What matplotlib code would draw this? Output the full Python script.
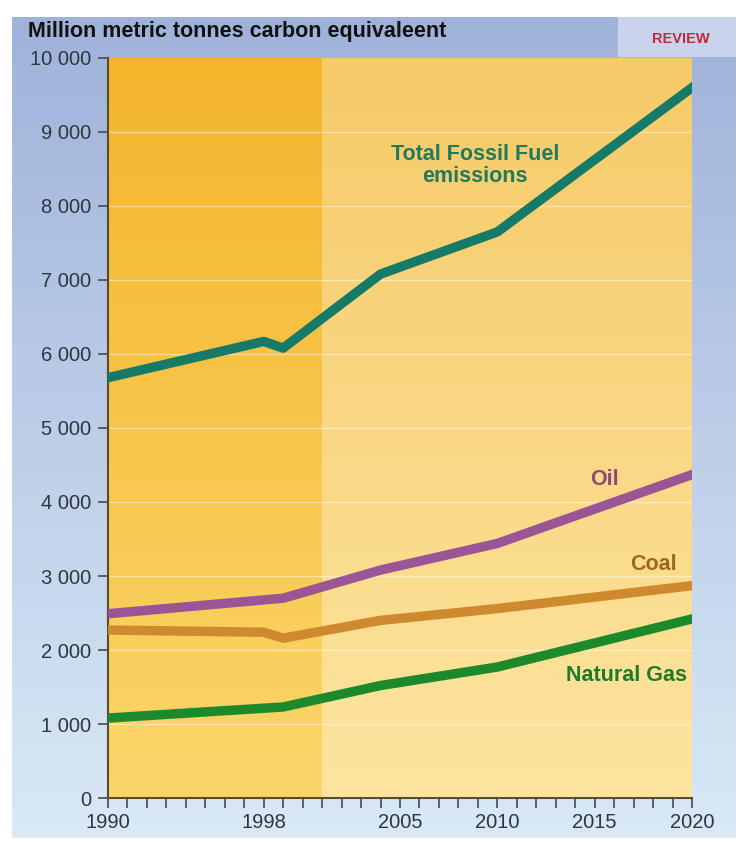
import numpy as np
import matplotlib
matplotlib.use("Agg")
import matplotlib.pyplot as plt
from matplotlib.colors import LinearSegmentedColormap
from matplotlib.patches import Rectangle

# data
years_total = [1990, 1998, 1999, 2004, 2010, 2020]
total = [5680, 6170, 6080, 7080, 7650, 9600]
years_oil = [1990, 1999, 2004, 2010, 2020]
oil = [2490, 2700, 3080, 3440, 4370]
years_coal = [1990, 1998, 1999, 2004, 2010, 2020]
coal = [2270, 2240, 2160, 2400, 2560, 2870]
years_gas = [1990, 1999, 2004, 2010, 2020]
gas = [1080, 1230, 1520, 1770, 2420]

xtick_labels = [1990, 1998, 2005, 2010, 2015, 2020]
yticks = [0, 1000, 2000, 3000, 4000, 5000, 6000, 7000, 8000, 9000, 10000]
history_end = 2001

fig = plt.figure(figsize=(7.4, 8.42), dpi=100)
fig.patch.set_facecolor("white")

# blue gradient background
bg = fig.add_axes([12 / 740, 4 / 842, 724 / 740, 821 / 842], zorder=-10)
bg_cmap = LinearSegmentedColormap.from_list("bg", ["#9fb2da", "#d9e9f6"])
bg.imshow(np.linspace(0, 1, 256).reshape(-1, 1), aspect="auto", cmap=bg_cmap,
          extent=[0, 1, 0, 1])
bg.axis("off")
bg.add_patch(Rectangle((606 / 724, 781 / 821), 118 / 724, 40 / 821,
                       facecolor="#c9d3ec", edgecolor="none"))
bg.text(669 / 724, 799 / 821, "REVIEW", color="#bf2a3c", fontsize=10.5,
        fontweight="bold", ha="center", va="center", family="Liberation Sans")

ax = fig.add_axes([108 / 740, 44 / 842, 584 / 740, 740 / 842])

grad = np.linspace(0, 1, 256).reshape(-1, 1)
left_cmap = LinearSegmentedColormap.from_list("l", ["#fbd66a", "#f4b52c"])
right_cmap = LinearSegmentedColormap.from_list("r", ["#fde5a0", "#f6ca68"])
ax.imshow(grad, aspect="auto", cmap=left_cmap, origin="lower",
          extent=[1990, history_end, 0, 10000], zorder=0)
ax.imshow(grad, aspect="auto", cmap=right_cmap, origin="lower",
          extent=[history_end, 2020, 0, 10000], zorder=0)
ax.set_xlim(1990, 2020)
ax.set_ylim(0, 10000)

for y in yticks[1:-1]:
    ax.axhline(y, color="white", lw=1.0, alpha=0.45, zorder=1)

lw = 6.8
ax.plot(years_total, total, color="#157a68", lw=lw, zorder=3)
ax.plot(years_oil, oil, color="#9b5596", lw=lw, zorder=3)
ax.plot(years_coal, coal, color="#cf8a30", lw=lw, zorder=3)
ax.plot(years_gas, gas, color="#1c8a2c", lw=lw, zorder=3)

lab_font = dict(fontsize=15.5, fontweight="bold", ha="center", va="center",
                family="Liberation Sans")
ax.text(2008.85, 8550, "Total Fossil Fuel\nemissions", color="#227a5c",
        linespacing=1.05, **lab_font)
ax.text(2015.5, 4300, "Oil", color="#8c4a78", **lab_font)
ax.text(2018.0, 3150, "Coal", color="#a0661e", **lab_font)
ax.text(2016.65, 1650, "Natural Gas", color="#1e7a2c", **lab_font)

for side in ["top", "right"]:
    ax.spines[side].set_visible(False)
for side in ["left", "bottom"]:
    ax.spines[side].set_color("#5c4a2c")
    ax.spines[side].set_linewidth(1.5)

ax.set_yticks(yticks)
ax.set_yticklabels([f"{v:,}".replace(",", " ") for v in yticks])
ax.set_xticks(range(1990, 2021))
ax.set_xticklabels([str(y) if y in xtick_labels else "" for y in range(1990, 2021)])
ax.tick_params(axis="both", direction="out", color="#4a4a4a", width=1.2, length=7,
               labelcolor="#2f363e", pad=4)
ax.tick_params(axis="y", labelsize=14.5, pad=5)
ax.tick_params(axis="x", labelsize=14.5, pad=4)
for lab in ax.get_yticklabels() + ax.get_xticklabels():
    lab.set_family("Liberation Sans")

fig.text(28 / 740, 1 - 31 / 842, "Million metric tonnes carbon equivaleent",
         fontsize=15.5, fontweight="bold", color="#111111", va="center",
         family="Liberation Sans")

fig.savefig("out.png", dpi=100)
